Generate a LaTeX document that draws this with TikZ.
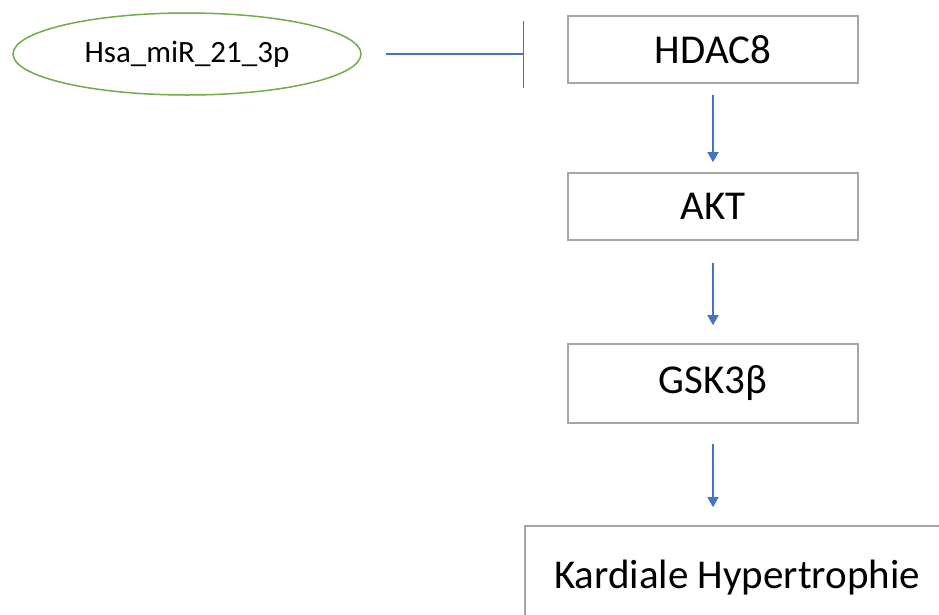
\documentclass[tikz,border=0pt]{standalone}
\usepackage{fontspec}
\setmainfont{Carlito}
\usetikzlibrary{shapes.geometric,arrows.meta}
\definecolor{mirgreen}{HTML}{70AD47}
\definecolor{linkblue}{HTML}{4472C4}
\definecolor{boxgray}{HTML}{A6A6A6}
\begin{document}
\begin{tikzpicture}[x=1pt,y=-1pt,
  mirnode/.style={ellipse,draw=mirgreen,line width=1.5pt,minimum width=348pt,minimum height=82pt,inner sep=0pt,font=\fontsize{31}{36}\selectfont},
  stepbox/.style={rectangle,draw=boxgray,line width=1.6pt,minimum width=290pt,inner sep=0pt,font=\fontsize{41}{48}\selectfont},
  activ/.style={draw=linkblue,line width=1.3pt,-{Triangle[width=11pt,length=10pt]}},
  inhib/.style={draw=linkblue,line width=1.3pt,-{Bar[width=67pt]}}]
\useasboundingbox (0,0) rectangle (939,614);
\clip (0,0) rectangle (939,614);
\node[mirnode] (mir) at (187,54) {Hsa\_miR\_21\_3p};
\node[stepbox,minimum height=67pt] (hdac) at (713,49.5) {HDAC8};
\node[stepbox,minimum height=67pt] (akt) at (713,206.5) {AKT};
\node[stepbox,minimum height=79pt] (gsk) at (713,383.5) {GSK3β};
\node[stepbox,minimum width=424pt,minimum height=104pt] (kard) at (737,578) {Kardiale Hypertrophie};
\draw[inhib,shorten <=24pt,shorten >=43pt] (mir.east) -- (mir.east -| hdac.west);
\draw[activ,shorten <=11.5pt,shorten >=10pt] (hdac.south) -- (akt.north);
\draw[activ,shorten <=22pt,shorten >=18pt] (akt.south) -- (gsk.north);
\draw[activ,shorten <=20pt,shorten >=18pt] (gsk.south) -- (gsk.south |- kard.north);
\end{tikzpicture}
\end{document}
